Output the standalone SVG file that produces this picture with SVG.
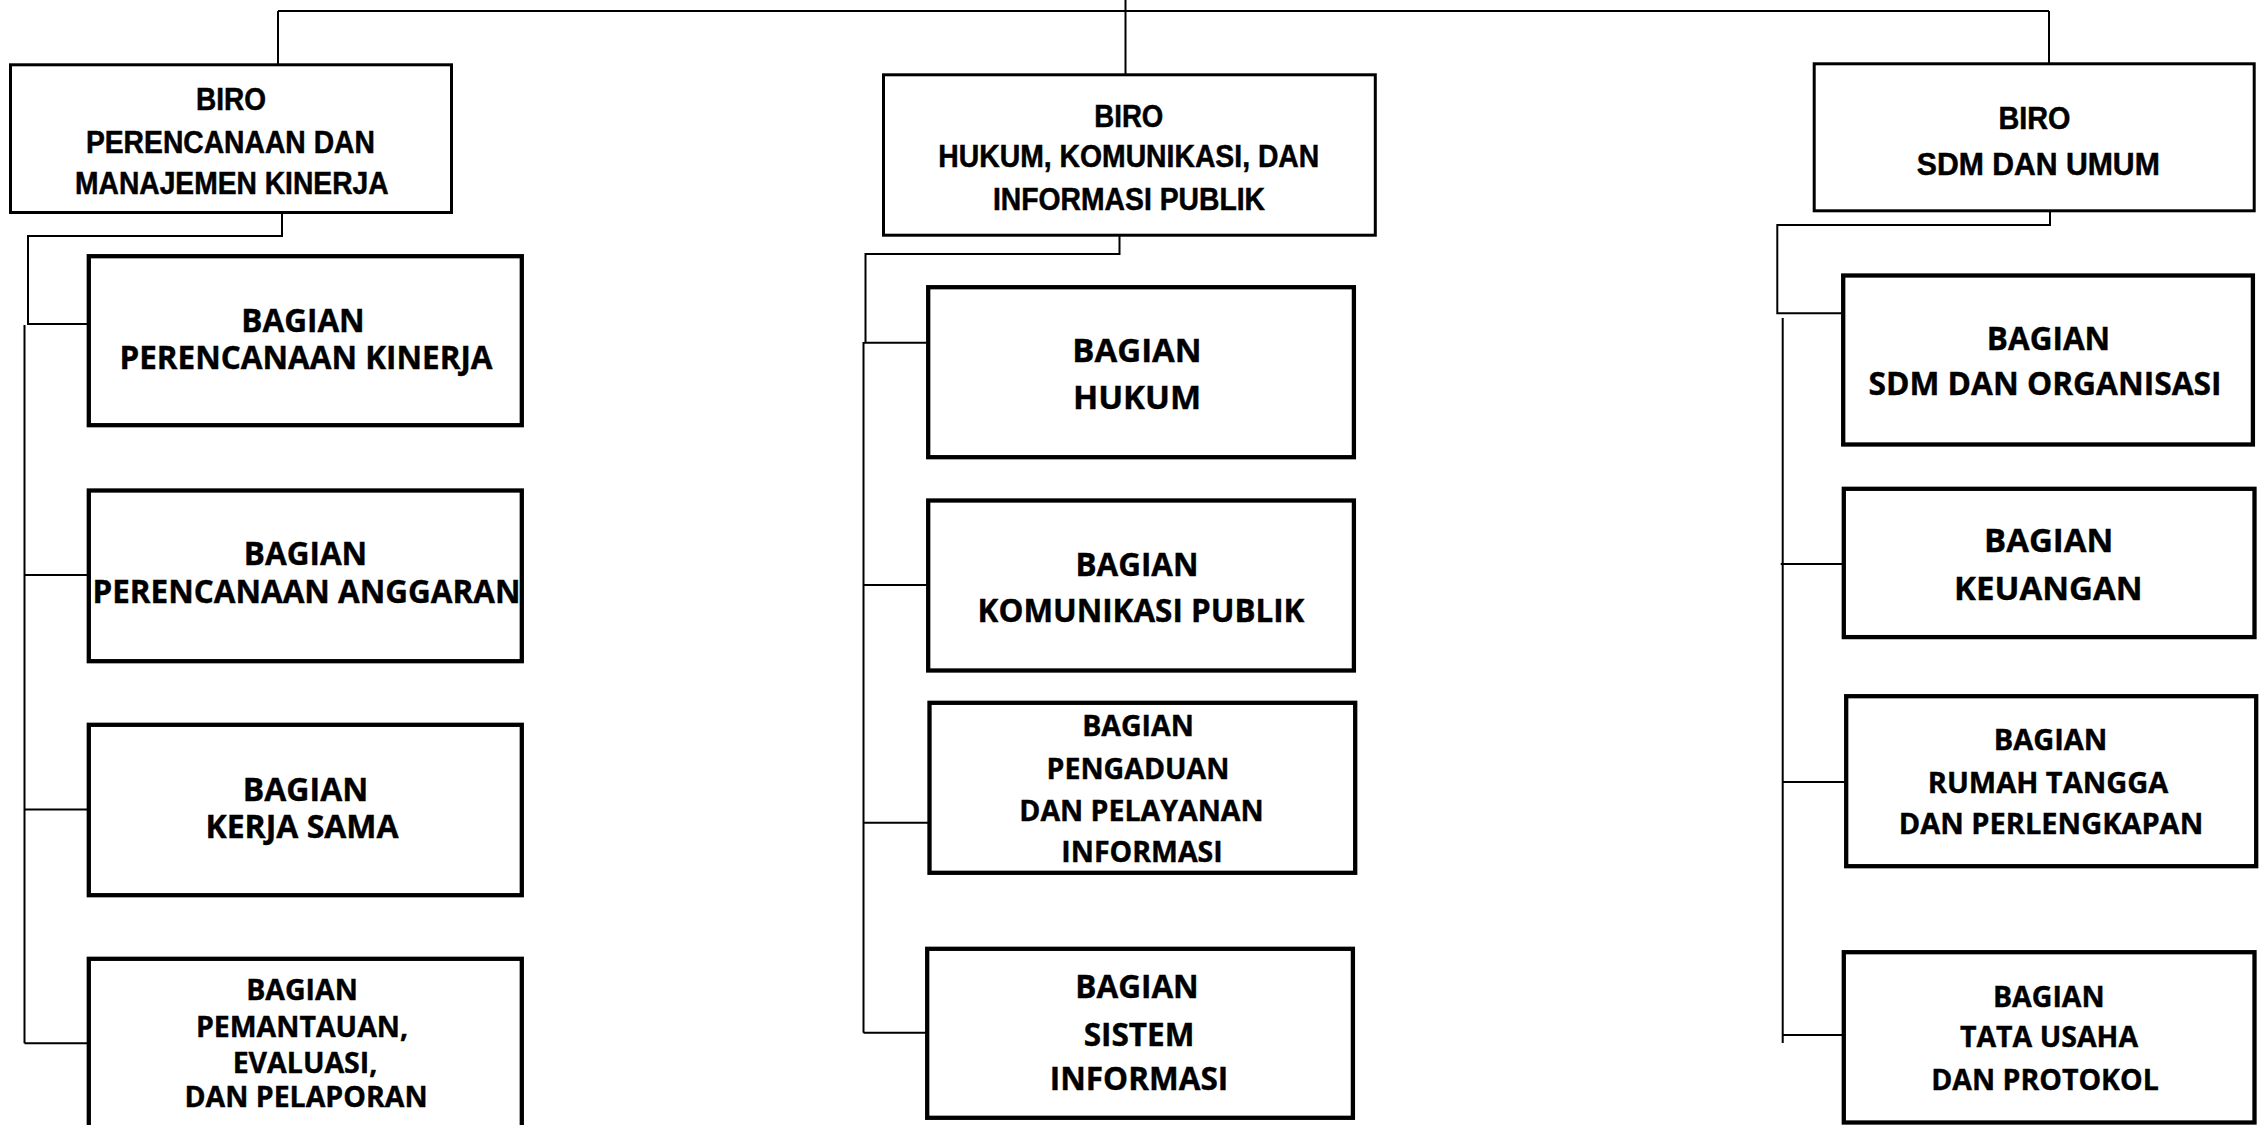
<svg xmlns="http://www.w3.org/2000/svg" width="2262" height="1125" viewBox="0 0 2262 1125">
<style>
.biro rect{fill:#fff;stroke:#000;stroke-width:3}
.bag rect{fill:#fff;stroke:#000;stroke-width:4.3}
.conn path{fill:none;stroke:#000;stroke-width:2}
.tb{font-family:"Liberation Sans",Arial,sans-serif;font-weight:bold;font-size:31px;text-anchor:middle;fill:#000;stroke:#000;stroke-width:0.5}
.tg{font-family:"Open Sans",sans-serif;font-weight:700;text-anchor:middle;fill:#000;stroke:#000;stroke-width:0.4}
</style>
<rect width="2262" height="1125" fill="#fff"/>
<g class="conn" id="connectors">
<path d="M278,11 H2049 M278,11 V64 M1125.5,0 V75 M2049,11 V63"/>
<path d="M282,212 V236 H28 V324 H89 M24.5,325 V1043.3 M24.5,575 H89 M24.5,809.5 H89 M24.5,1043.3 H89"/>
<path d="M1119.5,235 V254 H865.5 V342.7 H928 M863.5,342 V1032.7 M863.5,585 H928 M863.5,822.7 H929.5 M863.5,1032.7 H927"/>
<path d="M2050,206 V225 H1777.3 V313.3 H1843 M1782.7,318 V1043 M1780.7,564 H1844 M1782.7,782 H1846 M1782.7,1035 H1844"/>
</g>
<g id="biro1" class="biro"><rect x="10.5" y="64.8" width="441" height="147.7"/>
<text class="tb" x="231" y="110" textLength="70" lengthAdjust="spacingAndGlyphs">BIRO</text>
<text class="tb" x="230.4" y="153.3" textLength="289" lengthAdjust="spacingAndGlyphs">PERENCANAAN DAN</text>
<text class="tb" x="231.8" y="194" textLength="313.6" lengthAdjust="spacingAndGlyphs">MANAJEMEN KINERJA</text></g>
<g id="biro2" class="biro"><rect x="883.5" y="74.8" width="491.8" height="160.4"/>
<text class="tb" x="1128.8" y="126.7" textLength="69" lengthAdjust="spacingAndGlyphs">BIRO</text>
<text class="tb" x="1128.8" y="166.7" textLength="381" lengthAdjust="spacingAndGlyphs">HUKUM, KOMUNIKASI, DAN</text>
<text class="tb" x="1129" y="210" textLength="272" lengthAdjust="spacingAndGlyphs">INFORMASI PUBLIK</text></g>
<g id="biro3" class="biro"><rect x="1814.2" y="63.8" width="440" height="147"/>
<text class="tb" x="2034.5" y="129" textLength="72" lengthAdjust="spacingAndGlyphs">BIRO</text>
<text class="tb" x="2038.3" y="175" textLength="243" lengthAdjust="spacingAndGlyphs">SDM DAN UMUM</text></g>
<g id="l1" class="bag"><rect x="88.8" y="256.2" width="433" height="169"/>
<text class="tg" font-size="31.5" x="303" y="331.7">BAGIAN</text>
<text class="tg" font-size="31.5" x="306" y="369.3" textLength="373" lengthAdjust="spacingAndGlyphs">PERENCANAAN KINERJA</text></g>
<g id="l2" class="bag"><rect x="88.8" y="490.5" width="433" height="170.7"/>
<text class="tg" font-size="31.5" x="305.5" y="565">BAGIAN</text>
<text class="tg" font-size="31.5" x="306.5" y="603.3" textLength="428" lengthAdjust="spacingAndGlyphs">PERENCANAAN ANGGARAN</text></g>
<g id="l3" class="bag"><rect x="88.8" y="724.8" width="433" height="170.4"/>
<text class="tg" font-size="32" x="305.5" y="801">BAGIAN</text>
<text class="tg" font-size="32" x="302" y="838.3">KERJA SAMA</text></g>
<g id="l4" class="bag"><rect x="88.8" y="958.8" width="433" height="180"/>
<text class="tg" font-size="28.5" x="302" y="1000">BAGIAN</text>
<text class="tg" font-size="28.5" x="302" y="1036.7">PEMANTAUAN,</text>
<text class="tg" font-size="28.5" x="305" y="1072.7">EVALUASI,</text>
<text class="tg" font-size="28.5" x="306" y="1106.7">DAN PELAPORAN</text></g>
<g id="m1" class="bag"><rect x="928.2" y="287.2" width="425.7" height="170"/>
<text class="tg" font-size="33" x="1137" y="361.7">BAGIAN</text>
<text class="tg" font-size="33" x="1137" y="409.3">HUKUM</text></g>
<g id="m2" class="bag"><rect x="928.2" y="500.5" width="425.7" height="170"/>
<text class="tg" font-size="31.4" x="1137" y="576">BAGIAN</text>
<text class="tg" font-size="31.4" x="1141" y="621.7">KOMUNIKASI PUBLIK</text></g>
<g id="m3" class="bag"><rect x="929.5" y="702.8" width="425.7" height="170"/>
<text class="tg" font-size="28.5" x="1138" y="736">BAGIAN</text>
<text class="tg" font-size="28.5" x="1138" y="779.3">PENGADUAN</text>
<text class="tg" font-size="28.5" x="1141.5" y="820.7">DAN PELAYANAN</text>
<text class="tg" font-size="28.5" x="1142" y="861.7">INFORMASI</text></g>
<g id="m4" class="bag"><rect x="927.2" y="948.8" width="425.7" height="169"/>
<text class="tg" font-size="31.5" x="1137" y="998.3">BAGIAN</text>
<text class="tg" font-size="31.5" x="1139" y="1046">SISTEM</text>
<text class="tg" font-size="31.5" x="1139" y="1090">INFORMASI</text></g>
<g id="r1" class="bag"><rect x="1843.2" y="275.5" width="409.7" height="169"/>
<text class="tg" font-size="31.5" x="2048.5" y="350">BAGIAN</text>
<text class="tg" font-size="31.5" x="2045" y="395" textLength="353" lengthAdjust="spacingAndGlyphs">SDM DAN ORGANISASI</text></g>
<g id="r2" class="bag"><rect x="1843.8" y="488.8" width="410.7" height="148.3"/>
<text class="tg" font-size="33" x="2048.7" y="551.7">BAGIAN</text>
<text class="tg" font-size="33" x="2048.3" y="600">KEUANGAN</text></g>
<g id="r3" class="bag"><rect x="1846.2" y="696.2" width="410" height="170"/>
<text class="tg" font-size="29" x="2050.5" y="750">BAGIAN</text>
<text class="tg" font-size="29" x="2048" y="793.3">RUMAH TANGGA</text>
<text class="tg" font-size="29" x="2051" y="834">DAN PERLENGKAPAN</text></g>
<g id="r4" class="bag"><rect x="1843.8" y="952.2" width="410.7" height="170.3"/>
<text class="tg" font-size="28.5" x="2048.8" y="1006.7">BAGIAN</text>
<text class="tg" font-size="28.5" x="2049" y="1046.7">TATA USAHA</text>
<text class="tg" font-size="28.5" x="2045" y="1090">DAN PROTOKOL</text></g>
</svg>
